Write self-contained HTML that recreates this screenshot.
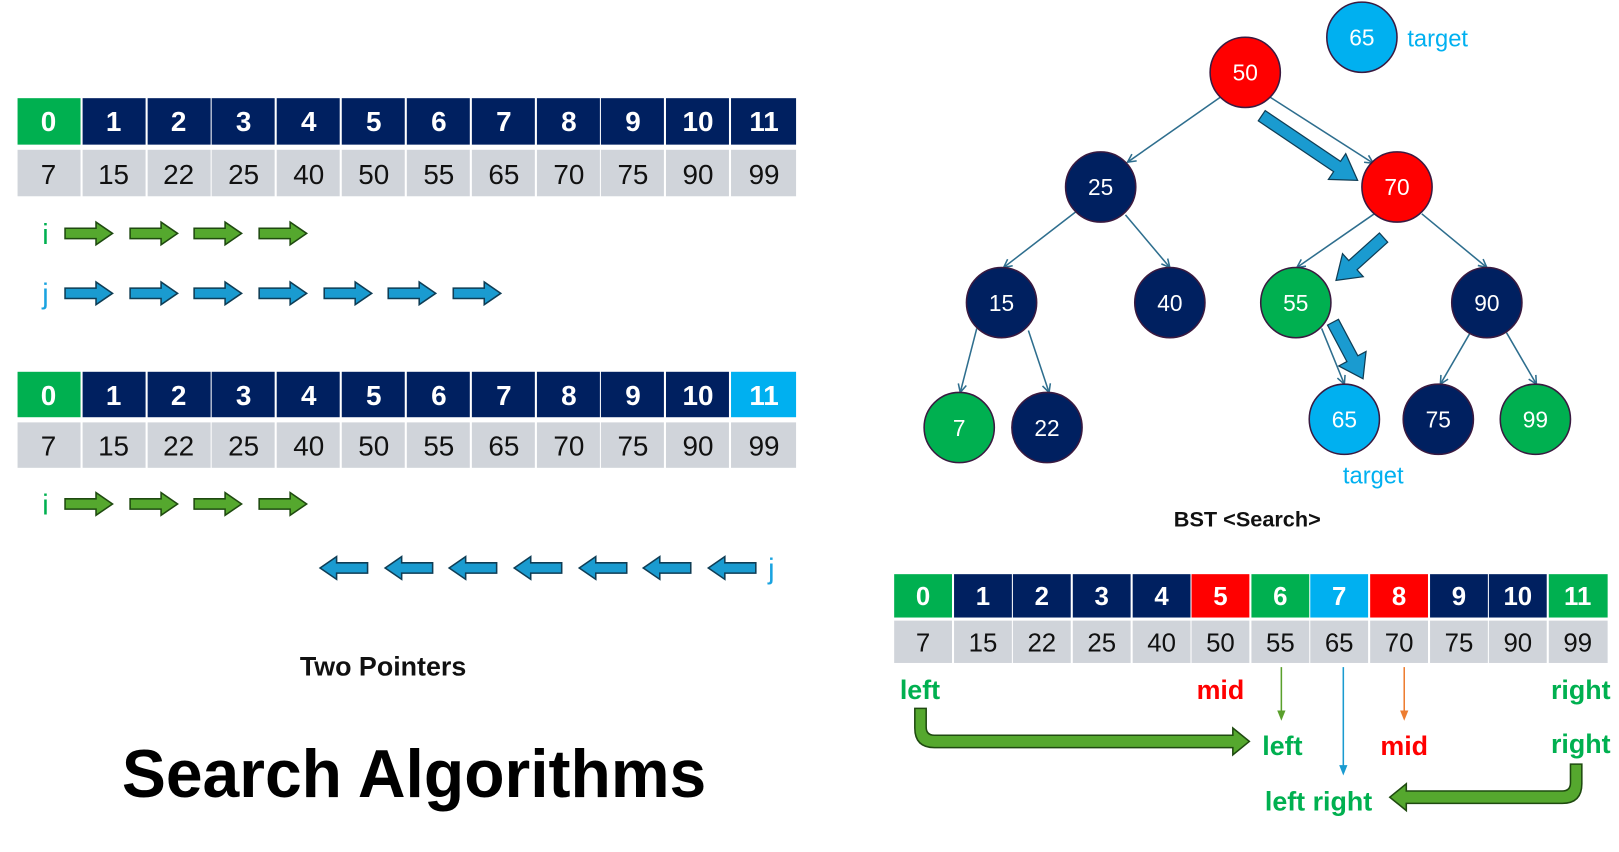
<!DOCTYPE html>
<html><head><meta charset="utf-8"><style>html,body{margin:0;padding:0;background:#fff;width:1619px;height:852px;overflow:hidden}svg{display:block}text{font-family:"Liberation Sans",sans-serif}</style></head><body>
<svg width="1619" height="852" viewBox="0 0 1568 825" xmlns="http://www.w3.org/2000/svg">
<defs>
<path id="ar" d="M-23,-5 H7 V-11 L23,0 L7,11 V5 H-23 Z"/>
<marker id="mk" markerWidth="10" markerHeight="10" refX="9" refY="5" orient="auto" markerUnits="userSpaceOnUse"><path d="M1,1 L9,5 L1,9" fill="none" stroke="#2e6e8e" stroke-width="1.5"/></marker>
</defs>

<!-- Top table -->
<g font-size="27" text-anchor="middle">
<g font-weight="bold" fill="#fff">
<rect x="17" y="95" width="61" height="45" fill="#00b050"/>
<rect x="80" y="95" width="61" height="45" fill="#002060"/><rect x="143" y="95" width="61" height="45" fill="#002060"/><rect x="205" y="95" width="61" height="45" fill="#002060"/><rect x="268" y="95" width="61" height="45" fill="#002060"/><rect x="331" y="95" width="61" height="45" fill="#002060"/><rect x="394" y="95" width="61" height="45" fill="#002060"/><rect x="457" y="95" width="61" height="45" fill="#002060"/><rect x="520" y="95" width="61" height="45" fill="#002060"/><rect x="582" y="95" width="61" height="45" fill="#002060"/><rect x="645" y="95" width="61" height="45" fill="#002060"/><rect x="708" y="95" width="63" height="45" fill="#002060"/>
<text x="47" y="127">0</text><text x="110" y="127">1</text><text x="173" y="127">2</text><text x="236" y="127">3</text><text x="299" y="127">4</text><text x="362" y="127">5</text><text x="425" y="127">6</text><text x="488" y="127">7</text><text x="551" y="127">8</text><text x="613" y="127">9</text><text x="676" y="127">10</text><text x="740" y="127">11</text>
</g>
<g fill="#d0d4da">
<rect x="17" y="145" width="61" height="45"/><rect x="80" y="145" width="61" height="45"/><rect x="143" y="145" width="61" height="45"/><rect x="205" y="145" width="61" height="45"/><rect x="268" y="145" width="61" height="45"/><rect x="331" y="145" width="61" height="45"/><rect x="394" y="145" width="61" height="45"/><rect x="457" y="145" width="61" height="45"/><rect x="520" y="145" width="61" height="45"/><rect x="582" y="145" width="61" height="45"/><rect x="645" y="145" width="61" height="45"/><rect x="708" y="145" width="63" height="45"/>
</g>
<g fill="#111">
<text x="47" y="178">7</text><text x="110" y="178">15</text><text x="173" y="178">22</text><text x="236" y="178">25</text><text x="299" y="178">40</text><text x="362" y="178">50</text><text x="425" y="178">55</text><text x="488" y="178">65</text><text x="551" y="178">70</text><text x="613" y="178">75</text><text x="676" y="178">90</text><text x="740" y="178">99</text>
</g>
</g>

<text x="44" y="236" font-size="28" fill="#00b050" text-anchor="middle">i</text>
<g fill="#55a82e" stroke="#1f4a10" stroke-width="1.5">
<use href="#ar" x="86" y="226"/><use href="#ar" x="149" y="226"/><use href="#ar" x="211" y="226"/><use href="#ar" x="274" y="226"/>
</g>
<text x="44" y="294" font-size="28" fill="#1aa3e0" text-anchor="middle">j</text>
<g fill="#1a9bd0" stroke="#0f3d55" stroke-width="1.5">
<use href="#ar" x="86" y="284"/><use href="#ar" x="149" y="284"/><use href="#ar" x="211" y="284"/><use href="#ar" x="274" y="284"/><use href="#ar" x="337" y="284"/><use href="#ar" x="399" y="284"/><use href="#ar" x="462" y="284"/>
</g>

<!-- Second table -->
<g font-size="27" text-anchor="middle">
<g font-weight="bold" fill="#fff">
<rect x="17" y="360" width="61" height="44" fill="#00b050"/>
<rect x="80" y="360" width="61" height="44" fill="#002060"/><rect x="143" y="360" width="61" height="44" fill="#002060"/><rect x="205" y="360" width="61" height="44" fill="#002060"/><rect x="268" y="360" width="61" height="44" fill="#002060"/><rect x="331" y="360" width="61" height="44" fill="#002060"/><rect x="394" y="360" width="61" height="44" fill="#002060"/><rect x="457" y="360" width="61" height="44" fill="#002060"/><rect x="520" y="360" width="61" height="44" fill="#002060"/><rect x="582" y="360" width="61" height="44" fill="#002060"/><rect x="645" y="360" width="61" height="44" fill="#002060"/><rect x="708" y="360" width="63" height="44" fill="#00b0f0"/>
<text x="47" y="392">0</text><text x="110" y="392">1</text><text x="173" y="392">2</text><text x="236" y="392">3</text><text x="299" y="392">4</text><text x="362" y="392">5</text><text x="425" y="392">6</text><text x="488" y="392">7</text><text x="551" y="392">8</text><text x="613" y="392">9</text><text x="676" y="392">10</text><text x="740" y="392">11</text>
</g>
<g fill="#d0d4da">
<rect x="17" y="409" width="61" height="44"/><rect x="80" y="409" width="61" height="44"/><rect x="143" y="409" width="61" height="44"/><rect x="205" y="409" width="61" height="44"/><rect x="268" y="409" width="61" height="44"/><rect x="331" y="409" width="61" height="44"/><rect x="394" y="409" width="61" height="44"/><rect x="457" y="409" width="61" height="44"/><rect x="520" y="409" width="61" height="44"/><rect x="582" y="409" width="61" height="44"/><rect x="645" y="409" width="61" height="44"/><rect x="708" y="409" width="63" height="44"/>
</g>
<g fill="#111">
<text x="47" y="441">7</text><text x="110" y="441">15</text><text x="173" y="441">22</text><text x="236" y="441">25</text><text x="299" y="441">40</text><text x="362" y="441">50</text><text x="425" y="441">55</text><text x="488" y="441">65</text><text x="551" y="441">70</text><text x="613" y="441">75</text><text x="676" y="441">90</text><text x="740" y="441">99</text>
</g>
</g>

<text x="44" y="498" font-size="28" fill="#00b050" text-anchor="middle">i</text>
<g fill="#55a82e" stroke="#1f4a10" stroke-width="1.5">
<use href="#ar" x="86" y="488"/><use href="#ar" x="149" y="488"/><use href="#ar" x="211" y="488"/><use href="#ar" x="274" y="488"/>
</g>
<g fill="#1a9bd0" stroke="#0f3d55" stroke-width="1.5" transform="rotate(180 0 550)">
<use href="#ar" x="-333" y="550"/><use href="#ar" x="-396" y="550"/><use href="#ar" x="-458" y="550"/><use href="#ar" x="-521" y="550"/><use href="#ar" x="-584" y="550"/><use href="#ar" x="-646" y="550"/><use href="#ar" x="-709" y="550"/>
</g>
<text x="747" y="560" font-size="28" fill="#1aa3e0" text-anchor="middle">j</text>

<text x="371" y="654" font-size="26" font-weight="bold" fill="#111" text-anchor="middle">Two Pointers</text>
<text x="118" y="772" font-size="66" font-weight="bold" fill="#000" textLength="566" lengthAdjust="spacingAndGlyphs">Search Algorithms</text>

<!-- Tree edges -->
<g stroke="#2e6e8e" stroke-width="1.5" fill="none" marker-end="url(#mk)">
<line x1="1182" y1="94" x2="1092" y2="157"/>
<line x1="1230" y1="94" x2="1330" y2="158"/>
<line x1="1042" y1="205" x2="972" y2="259"/>
<line x1="1090" y1="208" x2="1133" y2="259"/>
<line x1="1331" y1="207" x2="1256" y2="259"/>
<line x1="1377" y1="207" x2="1440" y2="259"/>
<line x1="946" y1="318" x2="930" y2="380"/>
<line x1="996" y1="320" x2="1016" y2="380"/>
<line x1="1280" y1="318" x2="1302" y2="372"/>
<line x1="1424" y1="322" x2="1395" y2="372"/>
<line x1="1459" y1="322" x2="1488" y2="372"/>
</g>
<g fill="#1a9bd0" stroke="#0f3d55" stroke-width="1.2">
<path d="M0,-6 H88 V-15 L112,0 L88,15 V6 H0 Z" transform="translate(1222,112) rotate(34)"/>
<path d="M0,-6 H40 V-15 L62,0 L40,15 V6 H0 Z" transform="translate(1340,230) rotate(138)"/>
<path d="M0,-6 H40 V-15 L62,0 L40,15 V6 H0 Z" transform="translate(1291,312) rotate(62)"/>
</g>

<g stroke="#3a1a40" stroke-width="1.5">
<circle cx="1319" cy="36" r="34" fill="#00b0f0"/>
<circle cx="1206" cy="70" r="34" fill="#ff0000"/>
<circle cx="1066" cy="181" r="34" fill="#002060"/>
<circle cx="1353" cy="181" r="34" fill="#ff0000"/>
<circle cx="970" cy="293" r="34" fill="#002060"/>
<circle cx="1133" cy="293" r="34" fill="#002060"/>
<circle cx="1255" cy="293" r="34" fill="#00b050"/>
<circle cx="1440" cy="293" r="34" fill="#002060"/>
<circle cx="929" cy="414" r="34" fill="#00b050"/>
<circle cx="1014" cy="414" r="34" fill="#002060"/>
<circle cx="1302" cy="406" r="34" fill="#00b0f0"/>
<circle cx="1393" cy="406" r="34" fill="#002060"/>
<circle cx="1487" cy="406" r="34" fill="#00b050"/>
</g>
<g fill="#fff" font-size="22" text-anchor="middle">
<text x="1319" y="44">65</text><text x="1206" y="78">50</text><text x="1066" y="189">25</text><text x="1353" y="189">70</text><text x="970" y="301">15</text><text x="1133" y="301">40</text><text x="1255" y="301">55</text><text x="1440" y="301">90</text><text x="929" y="422">7</text><text x="1014" y="422">22</text><text x="1302" y="414">65</text><text x="1393" y="414">75</text><text x="1487" y="414">99</text>
</g>
<text x="1363" y="45" font-size="23" fill="#00b0f0">target</text>
<text x="1330" y="468" font-size="23" fill="#00b0f0" text-anchor="middle">target</text>
<text x="1208" y="510" font-size="21" font-weight="bold" fill="#111" text-anchor="middle">BST &lt;Search&gt;</text>

<!-- Bottom table -->
<g font-size="25" text-anchor="middle">
<g font-weight="bold" fill="#fff">
<rect x="866" y="556" width="56" height="42" fill="#00b050"/><rect x="924" y="556" width="56" height="42" fill="#002060"/><rect x="981" y="556" width="56" height="42" fill="#002060"/><rect x="1039" y="556" width="56" height="42" fill="#002060"/><rect x="1097" y="556" width="56" height="42" fill="#002060"/><rect x="1154" y="556" width="56" height="42" fill="#ff0000"/><rect x="1212" y="556" width="56" height="42" fill="#00b050"/><rect x="1269" y="556" width="56" height="42" fill="#00b0f0"/><rect x="1327" y="556" width="56" height="42" fill="#ff0000"/><rect x="1385" y="556" width="56" height="42" fill="#002060"/><rect x="1442" y="556" width="56" height="42" fill="#002060"/><rect x="1500" y="556" width="57" height="42" fill="#00b050"/>
<text x="894" y="586">0</text><text x="952" y="586">1</text><text x="1009" y="586">2</text><text x="1067" y="586">3</text><text x="1125" y="586">4</text><text x="1182" y="586">5</text><text x="1240" y="586">6</text><text x="1297" y="586">7</text><text x="1355" y="586">8</text><text x="1413" y="586">9</text><text x="1470" y="586">10</text><text x="1528" y="586">11</text>
</g>
<g fill="#d0d4da">
<rect x="866" y="601" width="56" height="41"/><rect x="924" y="601" width="56" height="41"/><rect x="981" y="601" width="56" height="41"/><rect x="1039" y="601" width="56" height="41"/><rect x="1097" y="601" width="56" height="41"/><rect x="1154" y="601" width="56" height="41"/><rect x="1212" y="601" width="56" height="41"/><rect x="1269" y="601" width="56" height="41"/><rect x="1327" y="601" width="56" height="41"/><rect x="1385" y="601" width="56" height="41"/><rect x="1442" y="601" width="56" height="41"/><rect x="1500" y="601" width="57" height="41"/>
</g>
<g fill="#111">
<text x="894" y="631">7</text><text x="952" y="631">15</text><text x="1009" y="631">22</text><text x="1067" y="631">25</text><text x="1125" y="631">40</text><text x="1182" y="631">50</text><text x="1240" y="631">55</text><text x="1297" y="631">65</text><text x="1355" y="631">70</text><text x="1413" y="631">75</text><text x="1470" y="631">90</text><text x="1528" y="631">99</text>
</g>
</g>

<g font-size="26" font-weight="bold">
<text x="891" y="677" fill="#00b050" text-anchor="middle">left</text>
<text x="1182" y="677" fill="#ff0000" text-anchor="middle">mid</text>
<text x="1531" y="677" fill="#00b050" text-anchor="middle">right</text>
<text x="1242" y="731" fill="#00b050" text-anchor="middle">left</text>
<text x="1360" y="731" fill="#ff0000" text-anchor="middle">mid</text>
<text x="1531" y="729" fill="#00b050" text-anchor="middle">right</text>
<text x="1277" y="785" fill="#00b050" text-anchor="middle">left right</text>
</g>
<g stroke-width="1.5" fill="none">
<line x1="1241" y1="646" x2="1241" y2="690" stroke="#5aa02c"/>
<line x1="1301" y1="646" x2="1301" y2="743" stroke="#1a9bd0"/>
<line x1="1360" y1="646" x2="1360" y2="690" stroke="#ed7d31"/>
</g>
<path d="M1237,688 L1245,688 L1241,698 Z" fill="#5aa02c"/>
<path d="M1297,741 L1305,741 L1301,751 Z" fill="#1a9bd0"/>
<path d="M1356,688 L1364,688 L1360,698 Z" fill="#ed7d31"/>
<g fill="#55a82e" stroke="#1f4a10" stroke-width="1.5">
<path d="M886,686 H897 V704 Q897,712 905,712 H1194 V705 L1210,718 L1194,731 V724 H905 Q886,724 886,705 Z"/>
<path d="M1532,740 H1521 V758 Q1521,766 1513,766 H1362 V759 L1346,772 L1362,785 V778 H1513 Q1532,778 1532,759 Z"/>
</g>
</svg>
</body></html>
